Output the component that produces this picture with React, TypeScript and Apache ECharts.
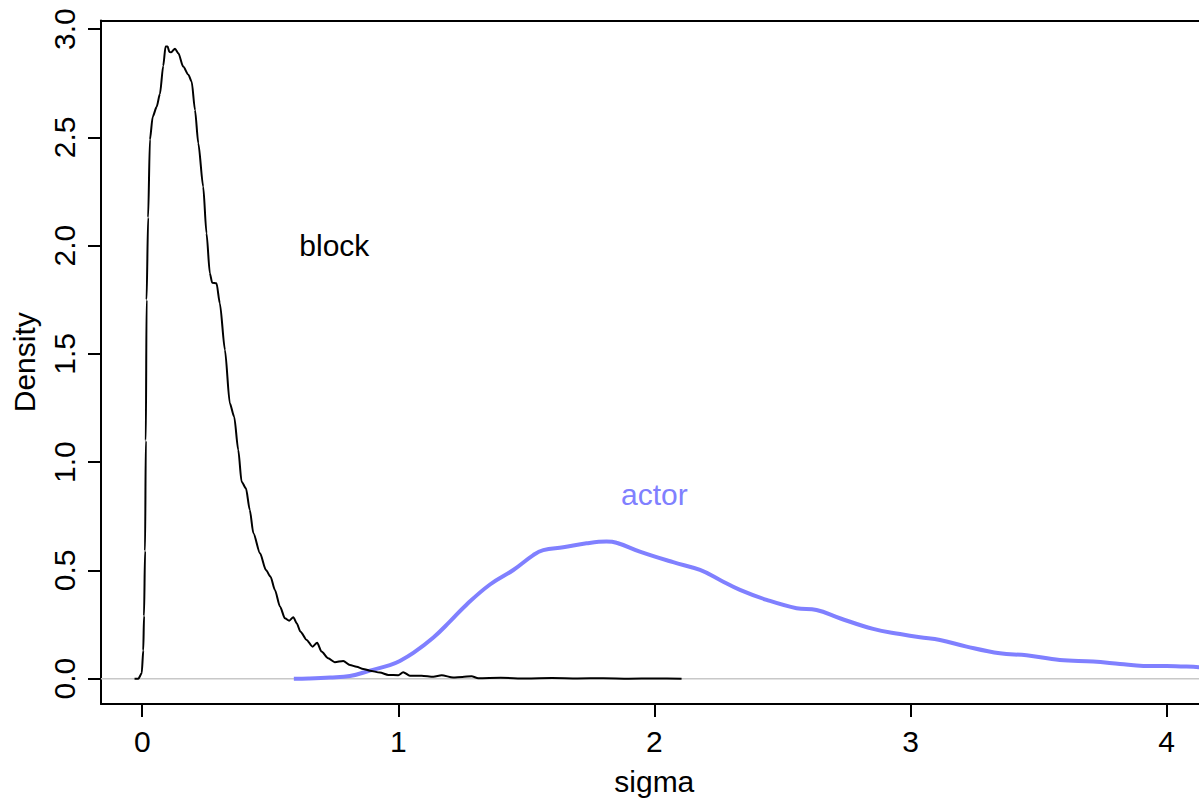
import React, { useEffect, useRef } from "react";
import * as echarts from "echarts";

const blockX = [
  -0.03, -0.015, -0.002, 0.004, 0.007, 0.011, 0.014, 0.017, 0.023, 0.03, 0.041, 0.056, 0.069, 0.082,
  0.091, 0.099, 0.106, 0.113, 0.128, 0.141, 0.16, 0.18, 0.193, 0.206, 0.219, 0.238, 0.251, 0.264,
  0.273, 0.29, 0.303, 0.323, 0.342, 0.359, 0.375, 0.388, 0.405, 0.42, 0.434, 0.46, 0.483, 0.501,
  0.518, 0.538, 0.557, 0.574, 0.59, 0.603, 0.618, 0.642, 0.665, 0.683, 0.7, 0.726, 0.752, 0.785,
  0.811, 0.837, 0.863, 0.889, 0.928, 0.961, 1.0, 1.019, 1.045, 1.091, 1.137, 1.169, 1.214, 1.25,
  1.286, 1.312, 1.4, 1.5, 1.6, 1.7, 1.8, 1.9, 2.0, 2.106,
];
const blockY = [
  0, 0.0, 0.025, 0.13, 0.29, 0.59, 1.1, 1.75, 2.13, 2.49, 2.596, 2.64, 2.7, 2.83,
  2.92, 2.92, 2.895, 2.893, 2.91, 2.889, 2.827, 2.79, 2.758, 2.627, 2.473, 2.273, 2.057, 1.873,
  1.829, 1.826, 1.734, 1.518, 1.272, 1.21, 1.056, 0.91, 0.879, 0.779, 0.672, 0.579, 0.502, 0.471,
  0.41, 0.333, 0.279, 0.268, 0.284, 0.256, 0.217, 0.179, 0.148, 0.166, 0.125, 0.094, 0.076, 0.082,
  0.063, 0.055, 0.045, 0.037, 0.028, 0.017, 0.016, 0.03, 0.014, 0.014, 0.009, 0.016, 0.005, 0.008,
  0.011, 0.002, 0.004, 0.001, 0.003, 0.001, 0.002, 0.0, 0.001, 0,
];

const actorX = [
  0.592, 0.65, 0.733, 0.811, 0.889, 0.967, 1.006, 1.06, 1.137, 1.2, 1.267, 1.358, 1.449, 1.527,
  1.566, 1.644, 1.735, 1.813, 1.852, 1.943, 2.073, 2.178, 2.256, 2.334, 2.438, 2.555, 2.633, 2.724,
  2.854, 2.959, 3.037, 3.115, 3.219, 3.349, 3.453, 3.583, 3.713, 3.818, 3.909, 4.0, 4.126, 4.2,
];
const actorY = [
  0, 0.001, 0.005, 0.012, 0.037, 0.063, 0.082, 0.12, 0.19, 0.262, 0.343, 0.435, 0.502, 0.571,
  0.594, 0.607, 0.625, 0.633, 0.628, 0.587, 0.538, 0.502, 0.456, 0.41, 0.364, 0.325, 0.317, 0.279,
  0.23, 0.206, 0.191, 0.179, 0.148, 0.117, 0.108, 0.086, 0.079, 0.068, 0.059, 0.059, 0.053, 0.05,
];

const xTicks = [0, 1, 2, 3, 4];
const yTicks = [0, 0.5, 1, 1.5, 2, 2.5, 3];

const labelTexts = ["block", "actor"];
const labelX = [0.75, 2.0];
const labelY = [2.0, 0.85];
const labelColors = ["#000000", "#8080FF"];

const X_MIN = -0.161;
const X_MAX = 4.16;
const Y_MIN = -0.117;
const Y_MAX = 3.04;

const FONT = "Liberation Sans, Arial, Helvetica, sans-serif";

export default function App() {
  const ref = useRef<HTMLDivElement>(null);

  useEffect(() => {
    if (!ref.current) return;
    const chart = echarts.init(ref.current, null, { renderer: "svg" });

    const blockData = blockX.map((x, i) => [x, blockY[i]]);
    const actorData = actorX.map((x, i) => [x, actorY[i]]);

    const axisLine = { show: true, onZero: false, lineStyle: { color: "#000", width: 2 } };

    chart.setOption({
      animation: false,
      backgroundColor: "#ffffff",
      textStyle: { fontFamily: FONT },
      grid: { left: 101, top: 20.5, right: 22.4, bottom: 97, containLabel: false },
      xAxis: [
        {
          type: "value",
          position: "bottom",
          min: X_MIN,
          max: X_MAX,
          axisLine,
          axisTick: {
            show: true,
            length: 13,
            inside: false,
            customValues: xTicks,
            lineStyle: { color: "#000", width: 2 },
          },
          axisLabel: {
            show: true,
            customValues: xTicks,
            fontSize: 30,
            color: "#000",
            margin: 22,
            fontFamily: FONT,
            formatter: (v: number) => String(v),
          },
          splitLine: { show: false },
          name: "sigma",
          nameLocation: "middle",
          nameGap: 62,
          nameTextStyle: { fontSize: 30, color: "#000", fontFamily: FONT },
        },
        {
          type: "value",
          position: "top",
          min: X_MIN,
          max: X_MAX,
          axisLine,
          axisTick: { show: false },
          axisLabel: { show: false },
          splitLine: { show: false },
        },
      ],
      yAxis: {
        type: "value",
        position: "left",
        min: Y_MIN,
        max: Y_MAX,
        axisLine,
        axisTick: {
          show: true,
          length: 13,
          inside: false,
          customValues: yTicks,
          lineStyle: { color: "#000", width: 2 },
        },
        axisLabel: {
          show: true,
          customValues: yTicks,
          rotate: 90,
          fontSize: 30,
          color: "#000",
          margin: 22,
          fontFamily: FONT,
          formatter: (v: number) => v.toFixed(1),
        },
        splitLine: { show: false },
        name: "Density",
        nameLocation: "middle",
        nameRotate: 90,
        nameGap: 62,
        nameTextStyle: { fontSize: 30, color: "#000", fontFamily: FONT },
      },
      series: [
        {
          type: "line",
          name: "zero",
          data: [
            [X_MIN, 0],
            [X_MAX, 0],
          ],
          symbol: "none",
          silent: true,
          lineStyle: { color: "#c8c8c8", width: 1.5 },
          z: 1,
        },
        {
          type: "line",
          name: "block",
          data: blockData,
          symbol: "none",
          smooth: 0.25,
          smoothMonotone: "x",
          silent: true,
          lineStyle: { color: "#000000", width: 2 },
          z: 3,
        },
        {
          type: "line",
          name: "actor",
          data: actorData,
          symbol: "none",
          smooth: 0.4,
          silent: true,
          lineStyle: { color: "#8080FF", width: 4 },
          z: 2,
        },
        {
          type: "scatter",
          name: "labels",
          symbolSize: 0,
          silent: true,
          itemStyle: { opacity: 1 },
          data: labelTexts.map((t, i) => ({
            value: [labelX[i], labelY[i]],
            label: {
              show: true,
              formatter: t,
              position: "inside",
              align: "center",
              verticalAlign: "middle",
              fontSize: 30,
              color: labelColors[i],
              textBorderWidth: 0,
              textBorderColor: "transparent",
              opacity: 1,
              fontFamily: FONT,
            },
          })),
          z: 4,
        },
      ],
    });

    return () => {
      chart.dispose();
    };
  }, []);

  return (
    <div
      style={{
        position: "fixed",
        left: 0,
        top: 0,
        width: 1199,
        height: 801,
        overflow: "hidden",
        background: "#ffffff",
      }}
    >
      <div ref={ref} style={{ width: 1230, height: 801 }} />
    </div>
  );
}
